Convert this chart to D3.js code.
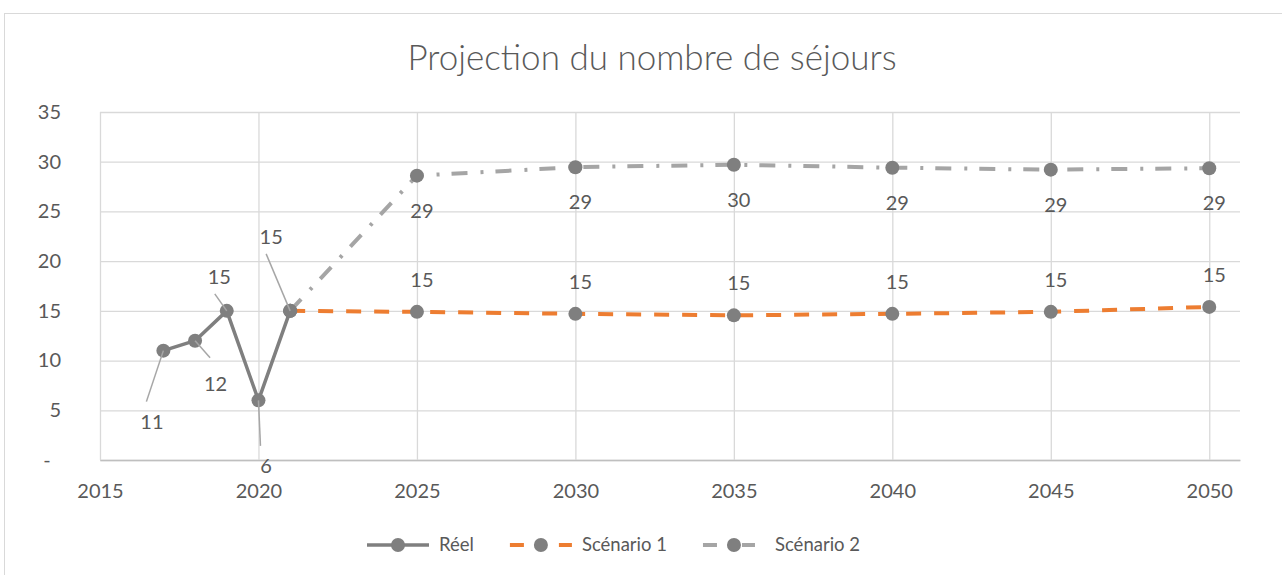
<!DOCTYPE html>
<html>
<head>
<meta charset="utf-8">
<script src="https://cdnjs.cloudflare.com/ajax/libs/d3/7.8.5/d3.min.js"></script>
<style>
  body { margin: 0; background: #fff; }
  svg text { font-family: Lato, "Open Sans", sans-serif; fill: #595959; }
</style>
</head>
<body>
<div id="chart"></div>
<script>
// data
const reelYears = [2017, 2018, 2019, 2020, 2021];
const reelValues = [11, 12, 15, 6, 15];
const scenarioYears = [2021, 2025, 2030, 2035, 2040, 2045, 2050];
const scenario1Values = [15, 14.9, 14.7, 14.55, 14.7, 14.9, 15.4];
const scenario2Values = [15, 28.6, 29.45, 29.7, 29.4, 29.2, 29.35];
const xTicks = [2015, 2020, 2025, 2030, 2035, 2040, 2045, 2050];
const yTicks = [0, 5, 10, 15, 20, 25, 30, 35];
const seriesNames = ['Réel', 'Scénario 1', 'Scénario 2'];

// where the Réel labels sit (text centre and leader end, relative to the point)
const reelLabelPos = [
    { tx: -11.5, ty: 71.5, lx: -17, ly: 51 },
    { tx: 20.5, ty: 43.5, lx: 15, ly: 17 },
    { tx: -7.5, ty: -34, lx: -12, ly: -17 },
    { tx: 7.5, ty: 66, lx: 2, ly: 45.5 },
    { tx: -19, ty: -74, lx: -24, ly: -57 }
];

const width = 1282;
const height = 575;
const plot = { left: 100, right: 1240, top: 112, bottom: 460 };
const grey = '#7f7f7f';
const orange = '#ed7d31';
const lightGrey = '#a5a5a5';
const fmt = d3.format('.0f');

const svg = d3.select('#chart')
    .append('svg')
    .attr('width', width)
    .attr('height', height);

// chart border
svg.append('rect')
    .attr('x', 4.5).attr('y', 13.5)
    .attr('width', 1300).attr('height', 600)
    .attr('fill', 'none')
    .attr('stroke', '#d9d9d9');

const x = d3.scaleLinear()
    .domain([2015, 2050.97])
    .range([plot.left, plot.right]);

const y = d3.scaleLinear()
    .domain([0, 35])
    .range([plot.bottom, plot.top]);

// horizontal grid + y labels
const yAxis = svg.append('g')
    .attr('transform', `translate(${plot.left}, 0)`)
    .call(d3.axisLeft(y)
        .tickValues(yTicks)
        .tickSize(-(plot.right - plot.left))
        .tickPadding(39)
        .tickFormat(d => d === 0 ? '-' : d));
yAxis.select('.domain').remove();
yAxis.selectAll('line').attr('stroke', '#d9d9d9').attr('stroke-width', 1.3);
yAxis.selectAll('text')
    .style('font-size', '20px')
    .attr('fill', '#595959')
    .filter(d => d === 0)
    .attr('text-anchor', 'middle')
    .attr('x', -53);

// vertical grid + x labels
const xAxis = svg.append('g')
    .attr('transform', `translate(0, ${plot.bottom})`)
    .call(d3.axisBottom(x)
        .tickValues(xTicks)
        .tickSize(-(plot.bottom - plot.top))
        .tickSizeOuter(0)
        .tickPadding(24)
        .tickFormat(d3.format('d')));
xAxis.selectAll('.tick line').attr('stroke', '#d9d9d9').attr('stroke-width', 1.3);
xAxis.select('.domain').attr('stroke', '#bfbfbf').attr('stroke-width', 1.3);
xAxis.selectAll('text').style('font-size', '20px').attr('fill', '#595959');

// title
svg.append('text')
    .attr('x', 652).attr('y', 70)
    .attr('text-anchor', 'middle')
    .style('font-size', '35px')
    .style('font-weight', 300)
    .text('Projection du nombre de séjours');

const line = d3.line()
    .x(d => x(d.year))
    .y(d => y(d.value));

const zip = (years, values) => years.map((year, i) => ({ year, value: values[i] }));
const reel = zip(reelYears, reelValues);
const s1 = zip(scenarioYears, scenario1Values);
const s2 = zip(scenarioYears, scenario2Values);

const series = [
    { data: s2, color: lightGrey, dash: '16,13,3,12' },
    { data: s1, color: orange, dash: '15,13' },
    { data: reel, color: grey, dash: null }
];

series.forEach(s => {
    svg.append('path')
        .datum(s.data)
        .attr('fill', 'none')
        .attr('stroke', s.color)
        .attr('stroke-width', s.dash ? 4 : 3.5)
        .attr('stroke-dasharray', s.dash)
        .attr('stroke-linejoin', 'round')
        .attr('d', line);
});

series.forEach(s => {
    svg.append('g')
        .selectAll('circle')
        .data(s.data)
        .join('circle')
        .attr('cx', d => x(d.year))
        .attr('cy', d => y(d.value))
        .attr('r', 7)
        .attr('fill', grey);
});

// scenario labels (skip the shared 2021 point)
const labelGroup = svg.append('g').style('font-size', '20px');
labelGroup.selectAll('.s1')
    .data(s1.slice(1))
    .join('text')
    .attr('x', d => x(d.year) + 5)
    .attr('y', d => y(d.value) - 32)
    .attr('dy', '0.35em')
    .attr('text-anchor', 'middle')
    .text(d => fmt(d.value));
labelGroup.selectAll('.s2')
    .data(s2.slice(1))
    .join('text')
    .attr('x', d => x(d.year) + 5)
    .attr('y', d => y(d.value) + 35)
    .attr('dy', '0.35em')
    .attr('text-anchor', 'middle')
    .text(d => fmt(d.value));

// Réel labels with leader lines
reel.forEach((d, i) => {
    const p = reelLabelPos[i];
    const px = x(d.year), py = y(d.value);
    svg.append('line')
        .attr('x1', px).attr('y1', py)
        .attr('x2', px + p.lx).attr('y2', py + p.ly)
        .attr('stroke', '#a6a6a6')
        .attr('stroke-width', 1.5);
    labelGroup.append('text')
        .attr('x', px + p.tx)
        .attr('y', py + p.ty)
        .attr('dy', '0.35em')
        .attr('text-anchor', 'middle')
        .text(fmt(d.value));
});

// legend
const legendY = 545;
const legendDash = ['', '14,35,14', '14,25,14'];
const legendColor = [grey, orange, lightGrey];
let lx = 367;
seriesNames.forEach((name, i) => {
    const symW = i === 2 ? 52 : 62;
    const g = svg.append('g');
    g.append('line')
        .attr('x1', lx).attr('x2', lx + symW)
        .attr('y1', legendY).attr('y2', legendY)
        .attr('stroke', legendColor[i])
        .attr('stroke-width', i === 0 ? 3.5 : 4)
        .attr('stroke-dasharray', legendDash[i] || null);
    g.append('circle')
        .attr('cx', lx + 31)
        .attr('cy', legendY)
        .attr('r', 7)
        .attr('fill', grey);
    const t = g.append('text')
        .attr('x', lx + symW + (i === 2 ? 20 : 10))
        .attr('y', legendY)
        .attr('dy', '0.35em')
        .style('font-size', '18.5px')
        .text(name);
    lx += symW + (i === 2 ? 20 : 10) + t.node().getComputedTextLength() + 36;
});
</script>
</body>
</html>
